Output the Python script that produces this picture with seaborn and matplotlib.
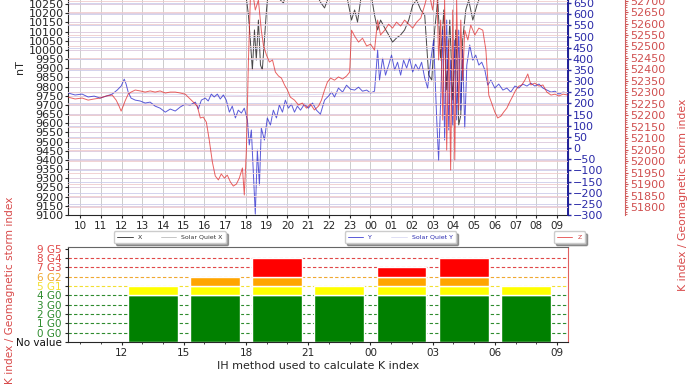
import seaborn as sns
import matplotlib
matplotlib.use('agg')
import matplotlib.pyplot as plt
from matplotlib.ticker import MultipleLocator

# time axis is hours from midnight of the first day (10:00 -> 09:00 next day)
x_hours = [9.42, 10.10, 10.68, 11.26, 11.79, 12.22, 12.66, 13.14, 13.62, 14.11,
           14.59, 15.07, 15.56, 16.04, 16.52, 17.05, 17.49, 17.78, 17.97, 18.12,
           18.21, 18.31, 18.41, 18.50, 18.60, 18.70, 18.79, 18.89, 18.99, 19.08,
           19.28, 19.47, 19.66, 19.81, 19.95, 20.14, 20.63, 21.11, 21.59, 21.79,
           21.93, 22.17, 22.56, 22.80, 22.95, 23.09, 23.24, 23.38, 23.53, 23.77,
           24.01, 24.20, 24.35, 24.49, 24.69, 24.88, 25.07, 25.26, 25.46, 25.65,
           25.85, 26.04, 26.23, 26.43, 26.62, 26.81, 26.96, 27.10, 27.25, 27.39,
           27.54, 27.68, 27.83, 27.97, 28.12, 28.26, 28.36, 28.45, 28.60, 28.74,
           28.94, 29.14, 29.32, 29.57, 29.81, 30.29, 30.77, 31.26, 31.74, 32.22,
           32.71, 33.19, 33.53]
x_nt = [10436, 10427, 10440, 10432, 10418, 10445, 10438, 10430, 10442, 10425,
        10433, 10421, 10440, 10428, 10410, 10395, 10402, 10380, 10327, 10190,
        10054, 9891, 10109, 9945, 10163, 9918, 9891, 10054, 10218, 10327,
        10381, 10354, 10272, 10256, 10327, 10354, 10381, 10370, 10261, 10229,
        10272, 10327, 10320, 10327, 10245, 10163, 10218, 10152, 10272, 10327,
        10320, 10190, 10109, 10163, 10120, 10082, 10043, 10065, 10082, 10109,
        10163, 10245, 10272, 10218, 10190, 9863, 9836, 10109, 10272, 9945,
        10218, 9782, 10163, 9727, 10109, 9591, 9645, 10054, 10218, 10272,
        10163, 10245, 10300, 10381, 10410, 10425, 10430, 10436, 10428, 10440,
        10432, 10438, 10435]

y_hours = [9.42, 9.76, 10.10, 10.39, 10.68, 10.97, 11.26, 11.55, 11.79, 11.98,
           12.13, 12.22, 12.32, 12.46, 12.66, 12.90, 13.14, 13.38, 13.62, 13.86,
           14.11, 14.35, 14.59, 14.83, 15.07, 15.31, 15.56, 15.70, 15.85, 16.04,
           16.18, 16.33, 16.47, 16.62, 16.76, 16.91, 17.05, 17.20, 17.34, 17.49,
           17.63, 17.78, 17.92, 18.07, 18.16, 18.26, 18.36, 18.45, 18.55, 18.65,
           18.74, 18.89, 19.03, 19.18, 19.32, 19.47, 19.61, 19.76, 19.90, 20.05,
           20.19, 20.34, 20.48, 20.63, 20.82, 21.01, 21.21, 21.40, 21.59, 21.79,
           21.98, 22.13, 22.27, 22.46, 22.66, 22.85, 23.04, 23.24, 23.43, 23.62,
           23.82, 24.01, 24.20, 24.35, 24.44, 24.59, 24.73, 24.88, 25.02, 25.17,
           25.31, 25.46, 25.60, 25.75, 25.89, 26.04, 26.18, 26.33, 26.47, 26.62,
           26.76, 26.91, 27.05, 27.20, 27.29, 27.39, 27.49, 27.58, 27.68, 27.78,
           27.87, 27.97, 28.07, 28.16, 28.26, 28.36, 28.45, 28.55, 28.65, 28.79,
           28.94, 29.08, 29.23, 29.37, 29.52, 29.66, 29.81, 30.00, 30.19, 30.39,
           30.58, 30.77, 30.97, 31.16, 31.35, 31.55, 31.74, 31.93, 32.13, 32.32,
           32.51, 32.71, 32.90, 33.09, 33.29, 33.53]
y_nt = [247, 238, 242, 229, 233, 224, 233, 242, 260, 278,
        309, 287, 251, 224, 215, 211, 202, 206, 188, 179,
        161, 175, 166, 184, 197, 193, 206, 175, 215, 224,
        211, 242, 229, 242, 220, 238, 215, 161, 188, 135,
        170, 157, 179, 126, 14, 81, -121, -296, -9, -166,
        90, 36, 135, 103, 170, 135, 193, 161, 215, 179,
        197, 161, 188, 170, 197, 179, 202, 170, 152, 215,
        233, 251, 229, 269, 251, 282, 264, 260, 273, 255,
        260, 247, 255, 439, 305, 403, 327, 372, 417, 350,
        385, 327, 394, 359, 403, 341, 376, 350, 385, 314,
        269, 394, 484, 126, -54, 215, 529, 36, 574, 81,
        394, 103, 484, 126, 529, 170, 439, 90, 372, 462,
        394, 417, 372, 385, 350, 282, 305, 269, 287, 260,
        269, 251, 278, 269, 287, 278, 291, 278, 287, 269,
        260, 251, 255, 242, 251, 247]

z_hours = [9.42, 9.76, 10.10, 10.39, 10.68, 10.97, 11.26, 11.55, 11.74, 11.88,
           11.98, 12.08, 12.17, 12.32, 12.46, 12.66, 12.90, 13.14, 13.38, 13.62,
           13.86, 14.11, 14.35, 14.59, 14.83, 15.07, 15.31, 15.51, 15.65, 15.80,
           15.94, 16.09, 16.23, 16.38, 16.52, 16.67, 16.81, 16.96, 17.10, 17.25,
           17.39, 17.54, 17.68, 17.83, 17.92, 18.02, 18.12, 18.21, 18.31, 18.45,
           18.60, 18.74, 18.84, 18.99, 19.13, 19.28, 19.42, 19.57, 19.71, 19.86,
           20.00, 20.14, 20.34, 20.53, 20.72, 20.92, 21.11, 21.30, 21.50, 21.64,
           21.79, 21.93, 22.08, 22.27, 22.46, 22.66, 22.85, 23.00, 23.09, 23.24,
           23.43, 23.62, 23.82, 24.01, 24.20, 24.35, 24.49, 24.69, 24.88, 25.07,
           25.26, 25.46, 25.65, 25.85, 26.04, 26.23, 26.43, 26.62, 26.81, 27.00,
           27.20, 27.29, 27.39, 27.49, 27.58, 27.68, 27.78, 27.87, 27.97, 28.07,
           28.16, 28.26, 28.36, 28.45, 28.55, 28.70, 28.84, 29.04, 29.23, 29.42,
           29.57, 29.71, 29.86, 30.00, 30.14, 30.29, 30.43, 30.58, 30.72, 30.87,
           31.01, 31.16, 31.30, 31.45, 31.59, 31.74, 31.93, 32.13, 32.32, 32.51,
           32.71, 32.90, 33.09, 33.29, 33.53]
z_nt = [52279, 52271, 52275, 52266, 52271, 52275, 52284, 52288, 52266, 52240,
        52218, 52240, 52262, 52292, 52301, 52310, 52306, 52301, 52306, 52301,
        52306, 52297, 52301, 52301, 52297, 52292, 52271, 52253, 52240, 52188,
        52192, 52170, 52092, 51996, 51935, 51918, 51944, 51926, 51939, 51909,
        51891, 51900, 51926, 51970, 51852, 52048, 52441, 52702, 52746, 52659,
        52702, 52571, 52506, 52462, 52432, 52441, 52388, 52371, 52362, 52332,
        52310, 52279, 52266, 52245, 52253, 52231, 52249, 52223, 52240, 52266,
        52310, 52345, 52362, 52353, 52367, 52358, 52371, 52388, 52571, 52545,
        52519, 52536, 52502, 52510, 52484, 52615, 52550, 52571, 52597, 52580,
        52606, 52589, 52615, 52597, 52580, 52606, 52624, 52680, 52746, 52659,
        52789, 52441, 52615, 52179, 52702, 52048, 52528, 51961, 52659, 52005,
        52702, 52223, 52615, 52353, 52571, 52528, 52593, 52550, 52580, 52571,
        52484, 52288, 52249, 52214, 52188, 52196, 52214, 52231, 52258, 52284,
        52310, 52327, 52332, 52353, 52380, 52332, 52340, 52327, 52332, 52301,
        52288, 52292, 52284, 52292, 52288]

sq_hours = [9.42, 12, 15, 18, 21, 24, 27, 30, 33.53]
sq_x = [10440, 10438, 10430, 10425, 10432, 10440, 10445, 10442, 10440]
sq_y = [248, 246, 240, 236, 240, 246, 250, 250, 248]

# K index per 3-hour block
k_hours = [13.5, 16.5, 19.5, 22.5, 25.5, 28.5, 31.5]
k_values = [5, 6, 8, 5, 7, 8, 5]
k_labels = ['No value', '0 G0', '1 G0', '2 G0', '3 G0', '4 G0',
            '5 G1', '6 G2', '7 G3', '8 G4', '9 G5']

hour_ticks = list(range(10, 34))
k_ticks = list(range(12, 34, 3))
# only the tick values that show inside the screenshot
x_nt_ticks = list(range(9100, 10251, 50))
y_nt_ticks = list(range(-300, 651, 50))
z_nt_ticks = list(range(51800, 52701, 50))


def level_color(k):
    if k <= 4:
        return '#2e8b2e'
    if k == 5:
        return '#f2e030'
    if k == 6:
        return '#f0a830'
    return '#e04848'


sns.set_style("ticks")
plt.rcParams['font.family'] = ['DejaVu Sans']

fig = plt.figure(figsize=(6.9, 3.88), dpi=100)
xlim = (9.42, 33.53)

# magnetometer panel; its top is cut off by the screenshot
ax = fig.add_axes([0.0986, 0.4459, 0.7246, 0.760])
ax_y = ax.twinx()
ax_z = ax.twinx()
ax_z.spines['right'].set_position(('axes', 1.114))

ax.grid(axis='x', color='#c4c4c4', lw=0.6)
ax.grid(axis='y', color='#dcc8dc', lw=0.6)
ax_y.grid(axis='y', color='#ccccea', lw=0.6)
ax_z.grid(axis='y', color='#f0cccc', lw=0.6)

sns.lineplot(x=sq_hours, y=sq_x, ax=ax, color='#bbbbbb', lw=0.6, legend=False)
sns.lineplot(x=x_hours, y=x_nt, ax=ax, color='#1a1a1a', lw=0.7, alpha=0.8, legend=False)
sns.lineplot(x=sq_hours, y=sq_y, ax=ax_y, color='#c0c0ea', lw=0.6, alpha=0.6, legend=False)
sns.lineplot(x=y_hours, y=y_nt, ax=ax_y, color='#2424cc', lw=0.7, alpha=0.75, legend=False)
sns.lineplot(x=z_hours, y=z_nt, ax=ax_z, color='#e02020', lw=0.7, alpha=0.7, legend=False)
line_sqx, line_x = ax.lines[0], ax.lines[1]
line_sqy, line_y = ax_y.lines[0], ax_y.lines[1]
line_z = ax_z.lines[0]

ax.set_xlim(*xlim)
ax.set_ylim(9100, 10708)
ax_y.set_ylim(-300, 1022)
ax_z.set_ylim(51765, 53051)
ax.set_yticks(x_nt_ticks)
ax_y.set_yticks(y_nt_ticks)
ax_z.set_yticks(z_nt_ticks)
ax_z.yaxis.set_minor_locator(MultipleLocator(10))

ax.set_xticks(hour_ticks)
ax.set_xticklabels([f'{h % 24:02d}' for h in hour_ticks])
ax.tick_params(axis='x', labelsize=7.5, length=2, pad=2)
ax.tick_params(axis='y', labelsize=8, length=2, pad=1)
ax_y.tick_params(axis='y', labelsize=8, length=2.5, pad=1, colors='#2a2aa8', width=1)
ax_z.tick_params(axis='y', which='both', labelsize=8, length=2.5, pad=1.5,
                 colors='#d05050', labelcolor='#d05050')
ax_z.tick_params(axis='y', which='minor', length=1.5)
ax_y.spines['right'].set_color('#20209a')
ax_y.spines['right'].set_linewidth(1.4)
ax_z.spines['right'].set_color('#d06060')
for a in (ax_y, ax_z):
    a.spines['left'].set_visible(False)
    a.spines['top'].set_visible(False)
    a.spines['bottom'].set_visible(False)
ax.set_xlabel('')
ax.set_ylabel('nT', fontsize=8, labelpad=3)

# K index panel
ax_k = fig.add_axes([0.0986, 0.1186, 0.7246, 0.245])
for lvl in range(0, 9):
    ax_k.axhline(lvl, ls=(0, (3, 2)), color=level_color(lvl), lw=0.8, zorder=0)

for h, k in zip(k_hours, k_values):
    ax_k.bar(h, min(k, 4) + 1, bottom=-1, width=2.4, color='#008000', zorder=2)
    if k >= 5:
        ax_k.bar(h, 1, bottom=4, width=2.4, color='#ffff00', zorder=2)
    if k >= 6:
        ax_k.bar(h, 1, bottom=5, width=2.4, color='#ffa500', zorder=2)
    if k >= 7:
        ax_k.bar(h, k - 6, bottom=6, width=2.4, color='#ff0000', zorder=2)

ax_k.set_xlim(*xlim)
ax_k.set_ylim(-1, 9.2)
ax_k.set_yticks(range(-1, 10))
ax_k.set_yticklabels(k_labels)
for lab, val in zip(ax_k.get_yticklabels(), range(-1, 10)):
    lab.set_color('#111111' if val < 0 else level_color(val))
ax_k.set_xticks(k_ticks)
ax_k.set_xticklabels([f'{h % 24:02d}' for h in k_ticks])
ax_k.xaxis.set_minor_locator(MultipleLocator(1))
ax_k.tick_params(axis='both', labelsize=7.5, length=2.5, pad=2)
ax_k.tick_params(axis='x', which='minor', length=1.5)
ax_k.spines['top'].set_color('#666666')
ax_k.spines['right'].set_color('#e06060')
ax_k.set_xlabel('IH method used to calculate K index', fontsize=8, labelpad=2)

leg_kw = dict(loc='center', fontsize=4.5, frameon=True, shadow=True,
              handlelength=2.5, borderpad=0.5, framealpha=1, edgecolor='#cccccc')
fig.legend([line_x, line_sqx], ['X', 'Solar Quiet X'], ncol=2, columnspacing=3,
           bbox_to_anchor=(0.246, 0.389), labelcolor='#333333', **leg_kw)
fig.legend([line_y, line_sqy], ['Y', 'Solar Quiet Y'], ncol=2, columnspacing=3,
           bbox_to_anchor=(0.580, 0.389), labelcolor='#2a2ab0', **leg_kw)
fig.legend([line_z], ['Z'], bbox_to_anchor=(0.825, 0.389),
           labelcolor='#d04040', **leg_kw)

fig.text(0.015, 1 - 290 / 388, 'K index / Geomagnetic storm index', rotation=90,
         color='#d84a4a', fontsize=7.6, ha='center', va='center')
fig.text(0.99, 1 - 195 / 388, 'K index / Geomagnetic storm index', rotation=90,
         color='#d84a4a', fontsize=7.8, ha='center', va='center')

fig.savefig('out.png', dpi=100)
